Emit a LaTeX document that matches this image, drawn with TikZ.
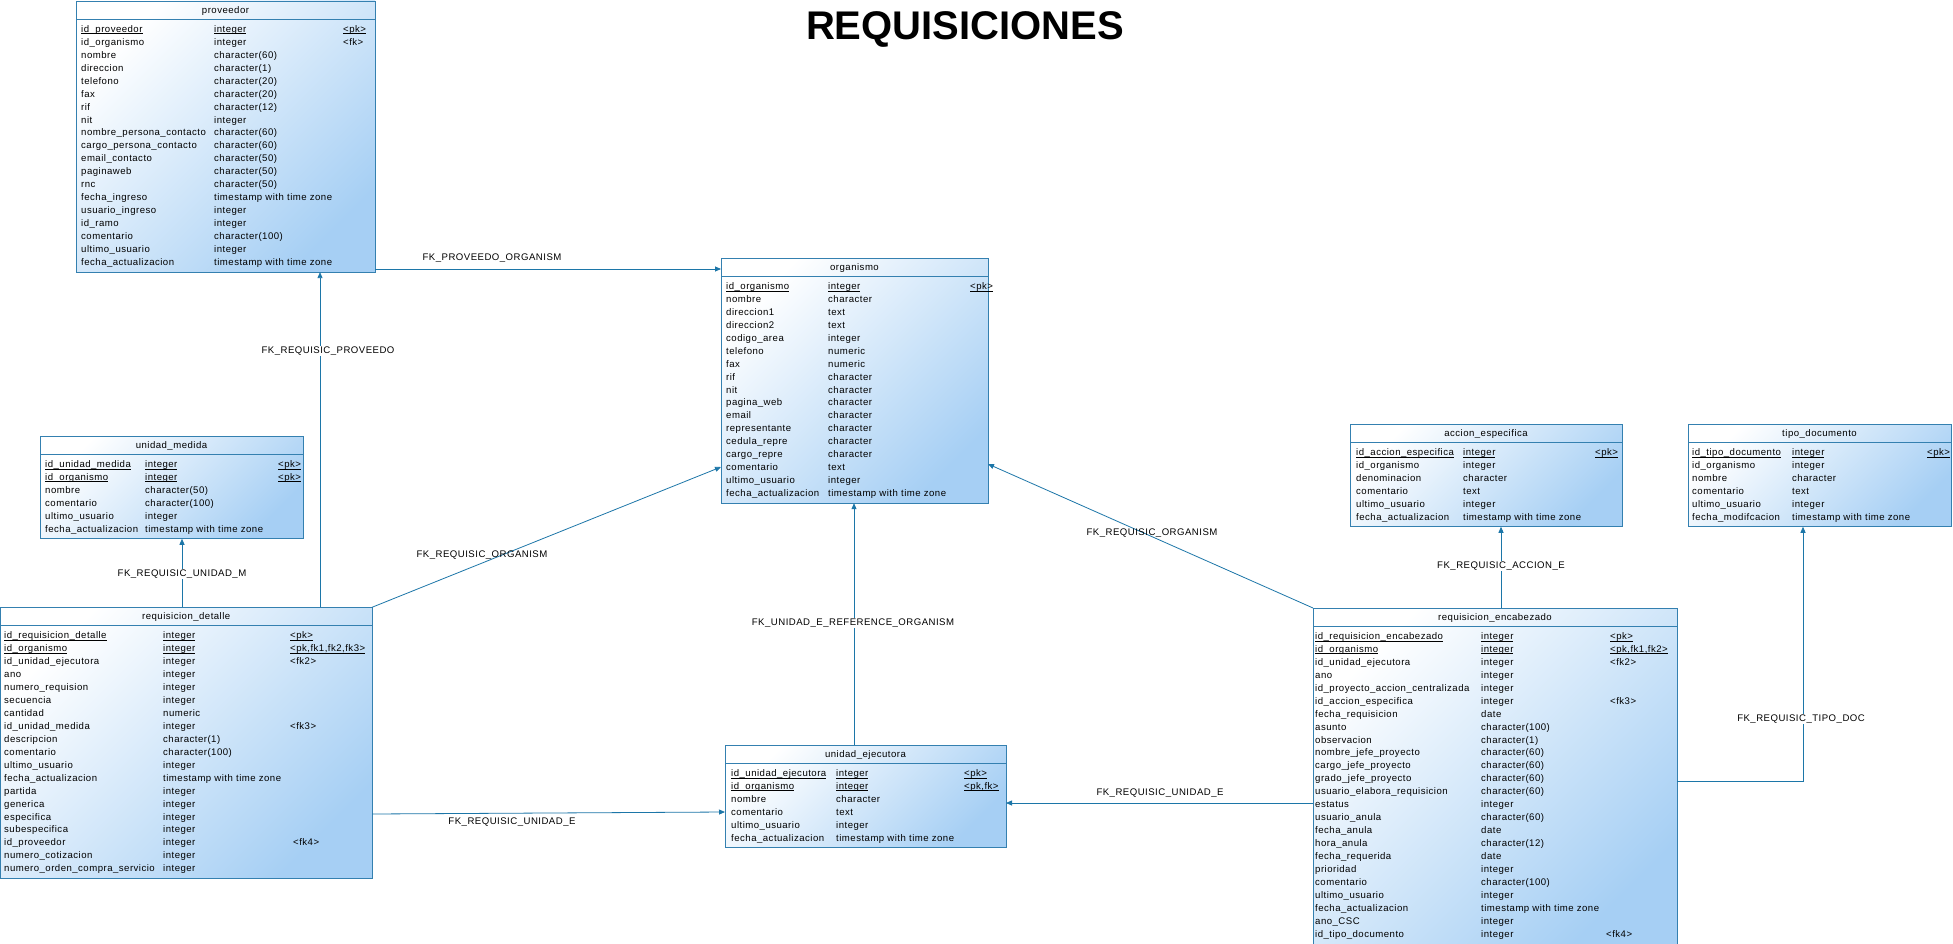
\documentclass[tikz,border=0pt]{standalone}
\usepackage{fontspec}
\usetikzlibrary{arrows.meta}
\newfontfamily\erfont[LetterSpace=5]{Liberation Sans}
\newfontfamily\ertitle{Liberation Sans}
\definecolor{bcol}{RGB}{52,128,176}
\definecolor{lcol}{RGB}{28,118,168}
\definecolor{boxblue}{RGB}{166,207,244}
\newcommand\ul[1]{\setbox0\hbox{#1}\rlap{\rule[-1.7pt]{\wd0}{0.6pt}}\box0}
\newcommand\nk{\relax}
\tikzset{
  tbl/.style={draw=bcol, line width=0.7pt, inner sep=0pt, outer sep=0pt,
    top color=white, bottom color=boxblue, shading angle=45},
  cell/.style={anchor=base west, inner sep=0pt, font=\erfont\fontsize{9.6}{11}\selectfont},
  ttl/.style={anchor=base, inner sep=0pt, font=\erfont\fontsize{9.6}{11}\selectfont},
  fk/.style={draw=lcol, line width=0.8pt, -{Triangle[length=6pt,width=5pt]}},
  fklab/.style={inner sep=1pt, fill=white, font=\erfont\fontsize{9.6}{11}\selectfont},
  fklabnf/.style={inner sep=1pt, font=\erfont\fontsize{9.6}{11}\selectfont}
}
\newcommand\ertab[6]{%
  \def\tN{#1}\def\tT{#3}%
  \node[tbl, minimum width={(#4-#2)*1pt}, minimum height={(38+(#5-1)*12.95)*1pt}, anchor=north west] (#1) at (#2,#3) {};
  \draw[bcol, line width=0.7pt] (#2,#3+18) -- (#4,#3+18);
  \node[ttl] (#1-title) at ({(#2+#4)/2},#3+12.4) {#6};
}
\newcommand\errows[4]{%
  \foreach \a/\b/\c [count=\i from 0] in {#4} {
    \node[cell] (\tN-n\i) at (#1,\tT+31.4+\i*12.95) {\a};
    \node[cell] (\tN-t\i) at (#2,\tT+31.4+\i*12.95) {\b};
    \node[cell] (\tN-k\i) at (#3,\tT+31.4+\i*12.95) {\c};
  }}
\begin{document}
\begin{tikzpicture}[x=1pt,y=-1pt]
\useasboundingbox (0,0) rectangle (1953,944);
\fill[white] (0,0) rectangle (1953,944);

\node[anchor=base, inner sep=0pt, font=\ertitle\bfseries\fontsize{40}{44}\selectfont] (title) at (965,40) {REQUISICIONES};

% proveedor
\ertab{prov}{76}{1}{375}{19}{proveedor}
\errows{81}{214}{343}{\ul{id\_proveedor}/\ul{integer}/\ul{<pk>},
id\_organismo/integer/<fk>,
nombre/character(60)/\nk,
direccion/character(1)/\nk,
telefono/character(20)/\nk,
fax/character(20)/\nk,
rif/character(12)/\nk,
nit/integer/\nk,
nombre\_persona\_contacto/character(60)/\nk,
cargo\_persona\_contacto/character(60)/\nk,
email\_contacto/character(50)/\nk,
paginaweb/character(50)/\nk,
rnc/character(50)/\nk,
fecha\_ingreso/timestamp with time zone/\nk,
usuario\_ingreso/integer/\nk,
id\_ramo/integer/\nk,
comentario/character(100)/\nk,
ultimo\_usuario/integer/\nk,
fecha\_actualizacion/timestamp with time zone/\nk}

% organismo
\ertab{org}{721}{258}{988}{17}{organismo}
\errows{726}{828}{970}{\ul{id\_organismo}/\ul{integer}/\ul{<pk>},
nombre/character/\nk,
direccion1/text/\nk,
direccion2/text/\nk,
codigo\_area/integer/\nk,
telefono/numeric/\nk,
fax/numeric/\nk,
rif/character/\nk,
nit/character/\nk,
pagina\_web/character/\nk,
email/character/\nk,
representante/character/\nk,
cedula\_repre/character/\nk,
cargo\_repre/character/\nk,
comentario/text/\nk,
ultimo\_usuario/integer/\nk,
fecha\_actualizacion/timestamp with time zone/\nk}

% unidad_medida
\ertab{um}{40}{436}{303}{6}{unidad\_medida}
\errows{45}{145}{278}{\ul{id\_unidad\_medida}/\ul{integer}/\ul{<pk>},
\ul{id\_organismo}/\ul{integer}/\ul{<pk>},
nombre/character(50)/\nk,
comentario/character(100)/\nk,
ultimo\_usuario/integer/\nk,
fecha\_actualizacion/timestamp with time zone/\nk}

% requisicion_detalle
\ertab{det}{0.5}{607.3}{372}{19}{requisicion\_detalle}
\errows{4}{163}{290}{\ul{id\_requisicion\_detalle}/\ul{integer}/\ul{<pk>},
\ul{id\_organismo}/\ul{integer}/\ul{<pk,fk1,fk2,fk3>},
id\_unidad\_ejecutora/integer/<fk2>,
ano/integer/\nk,
numero\_requision/integer/\nk,
secuencia/integer/\nk,
cantidad/numeric/\nk,
id\_unidad\_medida/integer/<fk3>,
descripcion/character(1)/\nk,
comentario/character(100)/\nk,
ultimo\_usuario/integer/\nk,
fecha\_actualizacion/timestamp with time zone/\nk,
partida/integer/\nk,
generica/integer/\nk,
especifica/integer/\nk,
subespecifica/integer/\nk,
id\_proveedor/integer/\hspace*{3pt}<fk4>,
numero\_cotizacion/integer/\nk,
numero\_orden\_compra\_servicio/integer/\nk}

% unidad_ejecutora
\ertab{ue}{725}{745}{1006}{6}{unidad\_ejecutora}
\errows{731}{836}{964}{\ul{id\_unidad\_ejecutora}/\ul{integer}/\ul{<pk>},
\ul{id\_organismo}/\ul{integer}/\ul{<pk,fk>},
nombre/character/\nk,
comentario/text/\nk,
ultimo\_usuario/integer/\nk,
fecha\_actualizacion/timestamp with time zone/\nk}

% accion_especifica
\ertab{ae}{1350}{424}{1622}{6}{accion\_especifica}
\errows{1356}{1463}{1595}{\ul{id\_accion\_especifica}/\ul{integer}/\ul{<pk>},
id\_organismo/integer/\nk,
denominacion/character/\nk,
comentario/text/\nk,
ultimo\_usuario/integer/\nk,
fecha\_actualizacion/timestamp with time zone/\nk}

% tipo_documento
\ertab{td}{1688}{424}{1951}{6}{tipo\_documento}
\errows{1692}{1792}{1927}{\ul{id\_tipo\_documento}/\ul{integer}/\ul{<pk>},
id\_organismo/integer/\nk,
nombre/character/\nk,
comentario/text/\nk,
ultimo\_usuario/integer/\nk,
fecha\_modifcacion/timestamp with time zone/\nk}

% requisicion_encabezado
\ertab{enc}{1313}{608}{1677}{24}{requisicion\_encabezado}
\errows{1315}{1481}{1610}{\ul{id\_requisicion\_encabezado}/\ul{integer}/\ul{<pk>},
\ul{id\_organismo}/\ul{integer}/\ul{<pk,fk1,fk2>},
id\_unidad\_ejecutora/integer/<fk2>,
ano/integer/\nk,
id\_proyecto\_accion\_centralizada/integer/\nk,
id\_accion\_especifica/integer/<fk3>,
fecha\_requisicion/date/\nk,
asunto/character(100)/\nk,
observacion/character(1)/\nk,
nombre\_jefe\_proyecto/character(60)/\nk,
cargo\_jefe\_proyecto/character(60)/\nk,
grado\_jefe\_proyecto/character(60)/\nk,
usuario\_elabora\_requisicion/character(60)/\nk,
estatus/integer/\nk,
usuario\_anula/character(60)/\nk,
fecha\_anula/date/\nk,
hora\_anula/character(12)/\nk,
fecha\_requerida/date/\nk,
prioridad/integer/\nk,
comentario/character(100)/\nk,
ultimo\_usuario/integer/\nk,
fecha\_actualizacion/timestamp with time zone/\nk,
ano\_CSC/integer/\nk,
id\_tipo\_documento/integer/\hspace*{-4pt}<fk4>}

% connector helper coordinates
\coordinate (c1) at (0,269);
\coordinate (c2) at (320,0);
\coordinate (c3) at (182,0);
\coordinate (c4) at (0,467);
\coordinate (c5) at (854,0);
\coordinate (c6a) at (0,814);
\coordinate (c6b) at (0,812);
\coordinate (c7) at (0,803);
\coordinate (c8) at (0,464);
\coordinate (c9) at (1501,0);
\coordinate (c10) at (1803,781);

\draw[fk] (prov.east |- c1) -- (org.west |- c1);
\draw[fk] (det.north -| c2) -- (prov.south -| c2);
\draw[fk] (det.north -| c3) -- (um.south -| c3);
\draw[fk] (det.north east) -- (org.west |- c4);
\draw[fk] (ue.north -| c5) -- (org.south -| c5);
\draw[fk] (det.east |- c6a) -- (ue.west |- c6b);
\draw[fk] (enc.west |- c7) -- (ue.east |- c7);
\draw[fk] (enc.north west) -- (org.east |- c8);
\draw[fk] (enc.north -| c9) -- (ae.south -| c9);
\draw[fk] (enc.east |- c10) -- (c10) -- (td.south -| c10);

\node[fklab] (l1) at (492,258) {FK\_PROVEEDO\_ORGANISM};
\node[fklab] (l2) at (328,351) {FK\_REQUISIC\_PROVEEDO};
\node[fklab] (l3) at (182,574) {FK\_REQUISIC\_UNIDAD\_M};
\node[fklabnf] (l4) at (482,555) {FK\_REQUISIC\_ORGANISM};
\node[fklab] (l5) at (853,623) {FK\_UNIDAD\_E\_REFERENCE\_ORGANISM};
\node[fklab] (l6) at (512,822) {FK\_REQUISIC\_UNIDAD\_E};
\node[fklab] (l7) at (1160,793) {FK\_REQUISIC\_UNIDAD\_E};
\node[fklabnf] (l8) at (1152,533) {FK\_REQUISIC\_ORGANISM};
\node[fklab] (l9) at (1501,566) {FK\_REQUISIC\_ACCION\_E};
\node[fklab] (l10) at (1801,719) {FK\_REQUISIC\_TIPO\_DOC};
\end{tikzpicture}
\end{document}
